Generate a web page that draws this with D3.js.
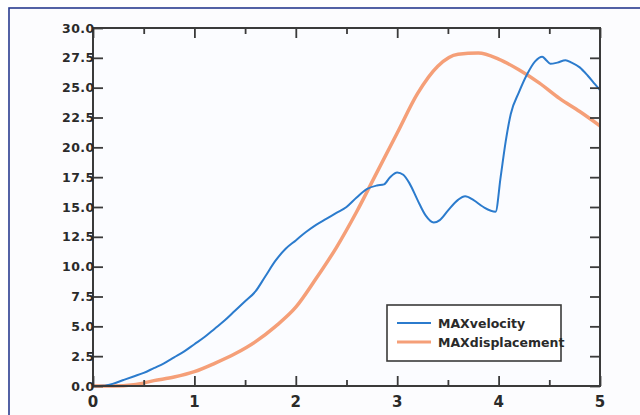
<!DOCTYPE html>
<html>
<head>
<meta charset="utf-8">
<script src="https://cdn.jsdelivr.net/npm/d3@7"></script>
<style>
  html, body { margin: 0; padding: 0; background: #ffffff; }
  svg { display: block; }
</style>
</head>
<body>
<svg id="chart" width="640" height="415"></svg>
<script>
// ---- data ----
const seriesNames = ["MAXvelocity", "MAXdisplacement"];

const velocityT = [0, 0.1, 0.2, 0.3, 0.4, 0.5, 0.6, 0.7, 0.8, 0.9, 1.0, 1.1, 1.2, 1.3, 1.4, 1.5, 1.6, 1.7, 1.8, 1.9, 2.0, 2.1, 2.2, 2.3, 2.4, 2.5, 2.6, 2.7, 2.8, 2.87, 2.93, 3.0, 3.06, 3.12, 3.2, 3.28, 3.36, 3.42, 3.5, 3.6, 3.67, 3.75, 3.85, 3.97, 4.02, 4.07, 4.12, 4.2, 4.28, 4.36, 4.43, 4.47, 4.51, 4.58, 4.66, 4.72, 4.8, 4.88, 4.95, 5.0];
const velocityV = [0, 0.02, 0.2, 0.5, 0.8, 1.1, 1.5, 1.9, 2.4, 2.9, 3.5, 4.1, 4.8, 5.5, 6.3, 7.1, 7.9, 9.2, 10.5, 11.5, 12.2, 12.9, 13.5, 14.0, 14.5, 15.0, 15.8, 16.5, 16.8, 16.9, 17.5, 17.9, 17.7, 17.0, 15.6, 14.3, 13.7, 13.9, 14.7, 15.6, 15.9, 15.6, 15.0, 14.6, 17.5, 20.5, 22.8, 24.6, 26.1, 27.2, 27.6, 27.3, 27.0, 27.1, 27.3, 27.1, 26.7, 26.0, 25.3, 24.8];

const displacementT = [0, 0.2, 0.4, 0.6, 0.8, 1.0, 1.2, 1.4, 1.6, 1.8, 2.0, 2.2, 2.4, 2.6, 2.8, 3.0, 3.2, 3.4, 3.6, 3.8, 4.0, 4.2, 4.4, 4.6, 4.8, 5.0];
const displacementV = [0, 0, 0.1, 0.45, 0.75, 1.2, 1.9, 2.7, 3.7, 5.0, 6.6, 9.0, 11.6, 14.6, 17.9, 21.2, 24.5, 26.8, 27.8, 27.9, 27.4, 26.5, 25.4, 24.1, 23.0, 21.8];

const xTickValues = [0, 1, 2, 3, 4, 5];
const xMinorTickValues = [0.5, 1.5, 2.5, 3.5, 4.5];
const yTickValues = [0, 2.5, 5, 7.5, 10, 12.5, 15, 17.5, 20, 22.5, 25, 27.5, 30];

// ---- layout ----
const svg = d3.select("#chart");
const W = 640, H = 415;
const mLeft = 93, mRight = 600, mTop = 28, mBottom = 386;
const axisColor = "#3a3a3a";
const textColor = "#2a2a2a";
const font = "'DejaVu Sans', Verdana, sans-serif";
const colors = ["#2b7bcd", "#f59f78"];

const x = d3.scaleLinear().domain([0, 5]).range([mLeft, mRight]);
const y = d3.scaleLinear().domain([0, 30]).range([mBottom, mTop]);

// background + outer frame
svg.append("rect").attr("x", 0).attr("y", 0).attr("width", W).attr("height", H).attr("fill", "#ffffff");
svg.append("rect").attr("x", 9).attr("y", 8).attr("width", W).attr("height", H)
  .attr("fill", "#fcfcfe").attr("stroke", "#283b8f").attr("stroke-width", 1.6);
svg.append("rect").attr("x", mLeft).attr("y", mTop).attr("width", mRight - mLeft).attr("height", mBottom - mTop)
  .attr("fill", "#fbfcff");

// curves
const line = d3.line().x(d => x(d[0])).y(d => y(d[1])).curve(d3.curveMonotoneX);
const dispData = displacementT.map((t, i) => [t, displacementV[i]]);
const velData = velocityT.map((t, i) => [t, velocityV[i]]);

const plot = svg.append("g");
plot.append("path").datum(dispData).attr("d", line)
  .attr("fill", "none").attr("stroke", colors[1]).attr("stroke-width", 3.5)
  .attr("stroke-linejoin", "round");
plot.append("path").datum(velData).attr("d", line)
  .attr("fill", "none").attr("stroke", colors[0]).attr("stroke-width", 2)
  .attr("stroke-linejoin", "round");

// axes
function styleAxis(g) {
  g.selectAll("path").remove();
  g.selectAll("line").attr("stroke", axisColor).attr("stroke-width", 1.8);
}
svg.append("g").attr("transform", `translate(0,${mBottom})`)
  .call(d3.axisBottom(x).tickValues(xTickValues).tickSize(-10).tickFormat(""))
  .call(styleAxis);
svg.append("g").attr("transform", `translate(0,${mBottom})`)
  .call(d3.axisBottom(x).tickValues(xMinorTickValues).tickSize(-6).tickFormat(""))
  .call(styleAxis);
svg.append("g").attr("transform", `translate(0,${mTop})`)
  .call(d3.axisTop(x).tickValues(xTickValues).tickSize(-10).tickFormat(""))
  .call(styleAxis);
svg.append("g").attr("transform", `translate(0,${mTop})`)
  .call(d3.axisTop(x).tickValues(xMinorTickValues).tickSize(-6).tickFormat(""))
  .call(styleAxis);
svg.append("g").attr("transform", `translate(${mLeft},0)`)
  .call(d3.axisLeft(y).tickValues(yTickValues).tickSize(-10).tickFormat(""))
  .call(styleAxis);
svg.append("g").attr("transform", `translate(${mRight},0)`)
  .call(d3.axisRight(y).tickValues(yTickValues).tickSize(-10).tickFormat(""))
  .call(styleAxis);

// frame
svg.append("rect").attr("x", mLeft).attr("y", mTop).attr("width", mRight - mLeft).attr("height", mBottom - mTop)
  .attr("fill", "none").attr("stroke", axisColor).attr("stroke-width", 2);

// tick labels
svg.append("g").selectAll("text").data(yTickValues).join("text")
  .attr("x", mLeft + 1.5).attr("y", d => y(d) + 4.5)
  .attr("text-anchor", "end")
  .attr("font-family", font).attr("font-weight", "bold").attr("font-size", 12.5)
  .attr("letter-spacing", 0.4)
  .attr("fill", textColor)
  .text(d => d3.format(".1f")(d));
svg.append("g").selectAll("text").data(xTickValues).join("text")
  .attr("x", d => x(d)).attr("y", 407)
  .attr("text-anchor", "middle")
  .attr("font-family", font).attr("font-weight", "bold").attr("font-size", 15)
  .attr("fill", textColor)
  .text(d => d3.format("d")(d));

// legend
const lg = svg.append("g");
lg.append("rect").attr("x", 387).attr("y", 305).attr("width", 174).attr("height", 56)
  .attr("fill", "#ffffff").attr("stroke", axisColor).attr("stroke-width", 1.6);
seriesNames.forEach((name, i) => {
  const ly = 323 + i * 19;
  lg.append("line").attr("x1", 397).attr("x2", 431).attr("y1", ly).attr("y2", ly)
    .attr("stroke", colors[i]).attr("stroke-width", i === 0 ? 2 : 3);
  lg.append("text").attr("x", 438).attr("y", ly + 5)
    .attr("font-family", font).attr("font-weight", "bold").attr("font-size", 12.5)
    .attr("fill", textColor).text(name);
});
</script>
</body>
</html>
